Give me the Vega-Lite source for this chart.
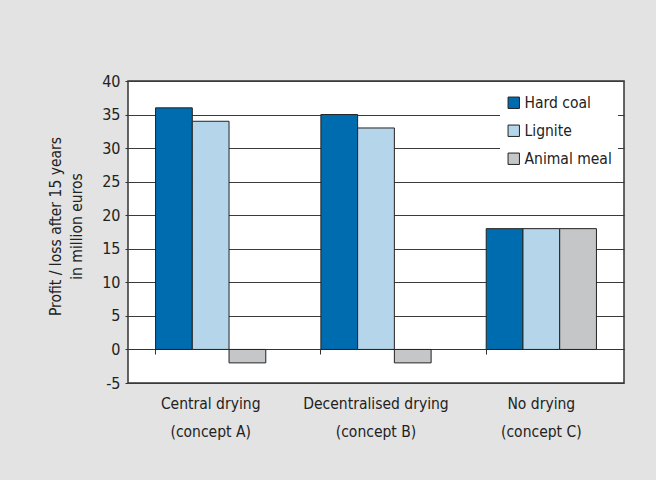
{
  "$schema": "https://vega.github.io/schema/vega-lite/v6.json",
  "width": 496,
  "height": 302,
  "autosize": "none",
  "padding": {"left": 128, "top": 81, "right": 32, "bottom": 97},
  "background": "#e2e3e2",
  "config": {
    "font": "DejaVu Sans Condensed",
    "view": {"fill": "white", "stroke": "#333333", "strokeWidth": 1.5},
    "axis": {"labelFont": "DejaVu Sans Condensed", "titleFont": "DejaVu Sans Condensed", "labelColor": "#222222", "titleColor": "#222222"},
    "legend": {"labelFont": "DejaVu Sans Condensed"}
  },
  "data": {
    "values": [
      {"concept": "Central drying|(concept A)", "fuel": "Hard coal", "value": 36},
      {"concept": "Central drying|(concept A)", "fuel": "Lignite", "value": 34},
      {"concept": "Central drying|(concept A)", "fuel": "Animal meal", "value": -2},
      {"concept": "Decentralised drying|(concept B)", "fuel": "Hard coal", "value": 35},
      {"concept": "Decentralised drying|(concept B)", "fuel": "Lignite", "value": 33},
      {"concept": "Decentralised drying|(concept B)", "fuel": "Animal meal", "value": -2},
      {"concept": "No drying|(concept C)", "fuel": "Hard coal", "value": 18},
      {"concept": "No drying|(concept C)", "fuel": "Lignite", "value": 18},
      {"concept": "No drying|(concept C)", "fuel": "Animal meal", "value": 18}
    ]
  },
  "mark": {"type": "bar", "stroke": "#222222", "strokeWidth": 1},
  "encoding": {
    "x": {
      "field": "concept",
      "type": "nominal",
      "sort": null,
      "scale": {"paddingInner": 0.3333, "paddingOuter": 0.1667},
      "axis": {
        "title": null,
        "labelAngle": 0,
        "labelExpr": "split(datum.label, '|')",
        "labelFontSize": 15.5,
        "labelLineHeight": 28,
        "labelPadding": 42,
        "offset": -34,
        "bandPosition": 0,
        "tickSize": 5,
        "tickColor": "#333333",
        "domainColor": "#333333",
        "domainWidth": 1.2,
        "grid": false
      }
    },
    "xOffset": {
      "field": "fuel",
      "type": "nominal",
      "sort": ["Hard coal", "Lignite", "Animal meal"],
      "scale": {"paddingInner": 0, "paddingOuter": 0}
    },
    "y": {
      "field": "value",
      "type": "quantitative",
      "scale": {"domain": [-5, 40], "nice": false, "zero": false},
      "axis": {
        "title": ["Profit / loss after 15 years", "in million euros"],
        "titleFontSize": 15.5,
        "titleFontWeight": "normal",
        "titleLineHeight": 21,
        "titlePadding": 17,
        "titleY": 145,
        "values": [-5, 0, 5, 10, 15, 20, 25, 30, 35, 40],
        "labelExpr": "'' + datum.value",
        "labelFontSize": 16,
        "labelPadding": 5,
        "tickSize": 3,
        "tickColor": "#333333",
        "domain": false,
        "grid": true,
        "gridColor": "#3a3a3a",
        "gridWidth": 1,
        "gridOpacity": 1
      }
    },
    "color": {
      "field": "fuel",
      "type": "nominal",
      "sort": ["Hard coal", "Lignite", "Animal meal"],
      "scale": {"domain": ["Hard coal", "Lignite", "Animal meal"], "range": ["#006cb0", "#b5d5ea", "#c5c6c8"]},
      "legend": {
        "title": null,
        "orient": "none",
        "legendX": 372,
        "legendY": 8,
        "fillColor": "white",
        "padding": 6,
        "symbolType": "square",
        "symbolSize": 130,
        "symbolStrokeColor": "#222222",
        "symbolStrokeWidth": 1,
        "symbolOpacity": 1,
        "labelFontSize": 15.5,
        "labelColor": "#222222",
        "rowPadding": 11,
        "labelOffset": 3,
        "symbolOffset": 0
      }
    }
  }
}
